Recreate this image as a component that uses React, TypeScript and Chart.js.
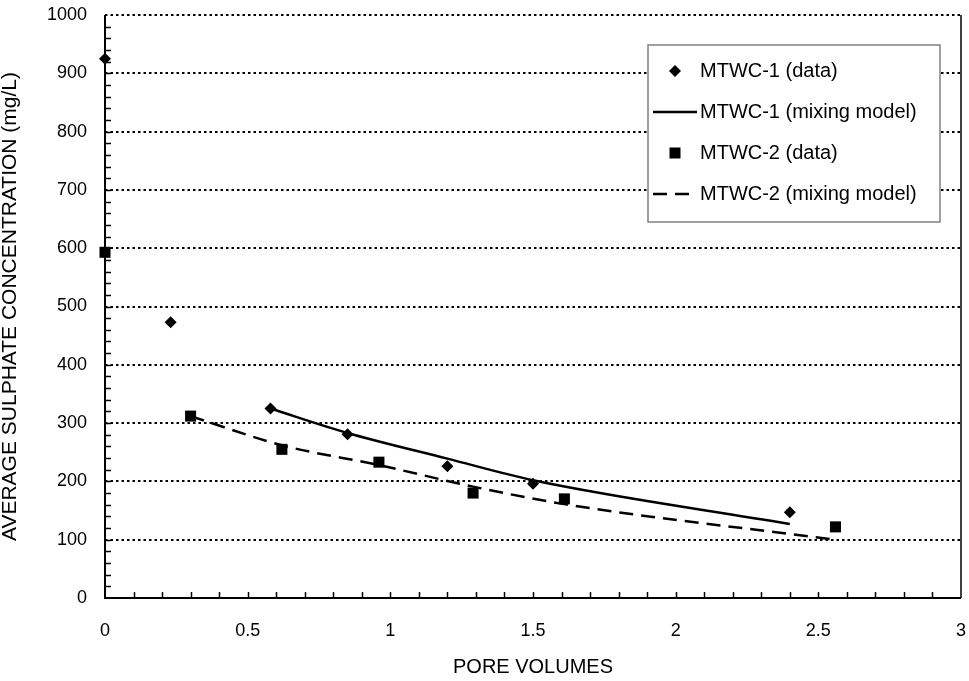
import React, { useEffect, useRef } from "react";
import { Chart, registerables } from "chart.js";

Chart.register(...registerables);

const FONT = "'Liberation Sans', Arial, Helvetica, sans-serif";

// ---- data ----
const mtwc1DataX = [0, 0.23, 0.58, 0.85, 1.2, 1.5, 2.4];
const mtwc1DataY = [925, 473, 325, 281, 226, 196, 147];

const mtwc1ModelX = [0.58, 0.85, 1.2, 1.5, 2.4];
const mtwc1ModelY = [325, 283, 239, 202, 127];

const mtwc2DataX = [0, 0.3, 0.62, 0.96, 1.29, 1.61, 2.56];
const mtwc2DataY = [593, 312, 255, 233, 180, 170, 122];

const mtwc2ModelX = [0.3, 0.62, 0.96, 1.29, 1.61, 2.56];
const mtwc2ModelY = [312, 262, 228, 191, 161, 100];

const seriesNames = [
  "MTWC-1 (data)",
  "MTWC-1 (mixing model)",
  "MTWC-2 (data)",
  "MTWC-2 (mixing model)",
];

const xMin = 0;
const xMax = 3;
const xStep = 0.5;
const xMinorStep = 0.1;
const yMin = 0;
const yMax = 1000;
const yStep = 100;
const yMinorStep = 20;

const xTitle = "PORE VOLUMES";
const yTitle = "AVERAGE SULPHATE CONCENTRATION (mg/L)";

const toPoints = (xs: number[], ys: number[]) => xs.map((x, i) => ({ x, y: ys[i] }));

const framePlugin = {
  id: "frameAndTicks",
  beforeDatasetsDraw(chart: any) {
    const { ctx, chartArea: a, scales } = chart;
    const xs = scales.x;
    const ys = scales.y;
    ctx.save();
    ctx.strokeStyle = "#000";
    // dotted horizontal gridlines
    ctx.lineWidth = 2;
    ctx.setLineDash([2.5, 3]);
    ctx.lineCap = "butt";
    for (const t of ys.ticks) {
      if (t.value === yMin) continue;
      const py = Math.round(ys.getPixelForValue(t.value));
      ctx.beginPath();
      ctx.moveTo(a.left, py);
      ctx.lineTo(a.right, py);
      ctx.stroke();
    }
    ctx.setLineDash([]);
    // minor ticks on y axis (inward)
    ctx.lineWidth = 1.5;
    const nY = Math.round((yMax - yMin) / yMinorStep);
    for (let i = 1; i < nY; i++) {
      const py = Math.round(ys.getPixelForValue(yMin + i * yMinorStep)) + 0.5;
      ctx.beginPath();
      ctx.moveTo(a.left, py);
      ctx.lineTo(a.left + 6, py);
      ctx.stroke();
    }
    // minor ticks on x axis (inward)
    const nX = Math.round((xMax - xMin) / xMinorStep);
    for (let i = 1; i < nX; i++) {
      const px = Math.round(xs.getPixelForValue(xMin + i * xMinorStep)) + 0.5;
      ctx.beginPath();
      ctx.moveTo(px, a.bottom);
      ctx.lineTo(px, a.bottom - 6);
      ctx.stroke();
    }
    // right border
    ctx.lineWidth = 1.5;
    ctx.beginPath();
    ctx.moveTo(a.right, a.top);
    ctx.lineTo(a.right, a.bottom);
    ctx.stroke();
    // left & bottom axes
    ctx.lineWidth = 2;
    ctx.beginPath();
    ctx.moveTo(a.left, a.top);
    ctx.lineTo(a.left, a.bottom);
    ctx.lineTo(a.right, a.bottom);
    ctx.stroke();
    ctx.restore();
  },
};

const legendPlugin = {
  id: "boxLegend",
  afterDraw(chart: any) {
    const { ctx } = chart;
    const left = 648;
    const top = 45;
    const right = 940;
    const bottom = 222;
    ctx.save();
    ctx.fillStyle = "#fff";
    ctx.fillRect(left, top, right - left, bottom - top);
    ctx.strokeStyle = "#808080";
    ctx.lineWidth = 1.5;
    ctx.strokeRect(left, top, right - left, bottom - top);

    const lineX0 = 653;
    const lineX1 = 697;
    const mx = (lineX0 + lineX1) / 2;
    const textX = 700;
    seriesNames.forEach((name, i) => {
      const cy = 71 + i * 41;
      ctx.fillStyle = "#000";
      ctx.strokeStyle = "#000";
      if (i === 0) {
        const r = 6;
        ctx.beginPath();
        ctx.moveTo(mx - r, cy);
        ctx.lineTo(mx, cy - r);
        ctx.lineTo(mx + r, cy);
        ctx.lineTo(mx, cy + r);
        ctx.closePath();
        ctx.fill();
      } else if (i === 2) {
        const s = 11;
        ctx.fillRect(mx - s / 2, cy - s / 2, s, s);
      } else {
        ctx.lineWidth = 2.5;
        ctx.setLineDash(i === 3 ? [14, 8] : []);
        ctx.beginPath();
        ctx.moveTo(lineX0, cy);
        ctx.lineTo(lineX1, cy);
        ctx.stroke();
        ctx.setLineDash([]);
      }
      ctx.fillStyle = "#000";
      ctx.font = `20px ${FONT}`;
      ctx.textAlign = "left";
      ctx.textBaseline = "middle";
      ctx.fillText(name, textX, cy);
    });
    ctx.restore();
  },
};

export default function App() {
  const ref = useRef<HTMLCanvasElement>(null);

  useEffect(() => {
    if (!ref.current) return;
    const chart = new Chart(ref.current, {
      type: "scatter",
      data: {
        datasets: [
          {
            label: seriesNames[0],
            data: toPoints(mtwc1DataX, mtwc1DataY),
            showLine: false,
            pointStyle: "rectRot",
            pointRadius: 6,
            pointBackgroundColor: "#000",
            pointBorderColor: "#000",
            pointBorderWidth: 0,
            clip: false,
            order: 1,
          },
          {
            label: seriesNames[1],
            data: toPoints(mtwc1ModelX, mtwc1ModelY),
            showLine: true,
            pointRadius: 0,
            borderColor: "#000",
            borderWidth: 2.5,
            cubicInterpolationMode: "monotone",
            clip: false,
            order: 2,
          },
          {
            label: seriesNames[2],
            data: toPoints(mtwc2DataX, mtwc2DataY),
            showLine: false,
            pointStyle: "rect",
            pointRadius: 7.8,
            pointBackgroundColor: "#000",
            pointBorderColor: "#000",
            pointBorderWidth: 0,
            clip: false,
            order: 1,
          },
          {
            label: seriesNames[3],
            data: toPoints(mtwc2ModelX, mtwc2ModelY),
            showLine: true,
            pointRadius: 0,
            borderColor: "#000",
            borderWidth: 2.5,
            borderDash: [14, 8],
            cubicInterpolationMode: "monotone",
            clip: false,
            order: 2,
          },
        ],
      },
      options: {
        responsive: false,
        animation: false,
        devicePixelRatio: 1,
        layout: { padding: { left: 0, top: 15, right: 8, bottom: 0 } },
        plugins: {
          legend: { display: false },
          tooltip: { enabled: false },
        },
        scales: {
          x: {
            type: "linear",
            position: "bottom",
            min: xMin,
            max: xMax,
            afterFit: (s: any) => {
              s.height = 83;
              s.paddingLeft = 0;
              s.paddingRight = 0;
            },
            grid: { display: false, drawTicks: false, tickLength: 0 },
            border: { display: false },
            ticks: {
              stepSize: xStep,
              color: "#000",
              font: { family: FONT, size: 18 },
              padding: 22,
              maxRotation: 0,
              autoSkip: false,
              callback: (v: any) => String(v),
            },
            title: {
              display: true,
              text: xTitle,
              color: "#000",
              font: { family: FONT, size: 20, lineHeight: 1 },
              padding: { top: 0, bottom: 4 },
            },
          },
          y: {
            type: "linear",
            position: "left",
            min: yMin,
            max: yMax,
            afterFit: (s: any) => {
              s.width = 105;
              s.paddingTop = 0;
              s.paddingBottom = 0;
            },
            grid: { display: false, drawTicks: false, tickLength: 0 },
            border: { display: false },
            ticks: {
              stepSize: yStep,
              color: "#000",
              font: { family: FONT, size: 18 },
              padding: 18,
              autoSkip: false,
              callback: (v: any) => String(v),
            },
            title: {
              display: true,
              text: yTitle,
              color: "#000",
              font: { family: FONT, size: 21, lineHeight: 1 },
              padding: { top: 0, bottom: 0 },
            },
          },
        },
      },
      plugins: [framePlugin, legendPlugin],
    } as any);
    return () => chart.destroy();
  }, []);

  return (
    <div
      style={{
        position: "absolute",
        left: 0,
        top: 0,
        width: 969,
        height: 681,
        background: "#fff",
      }}
    >
      <canvas
        ref={ref}
        width={969}
        height={681}
        style={{ display: "block", width: 969, height: 681 }}
      />
    </div>
  );
}
